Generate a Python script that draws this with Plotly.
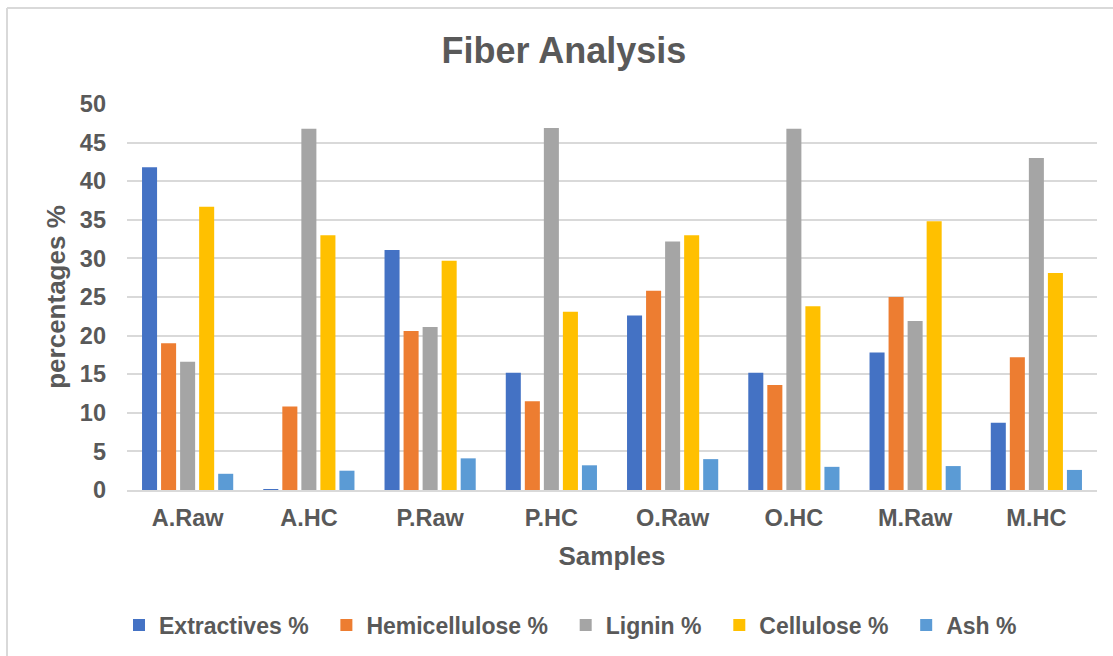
import plotly.graph_objects as go

# Sample groups shown along the x axis
samples = ["A.Raw", "A.HC", "P.Raw", "P.HC", "O.Raw", "O.HC", "M.Raw", "M.HC"]

# Fiber composition per sample (percent)
extractives = [41.8, 0.1, 31.1, 15.2, 22.6, 15.2, 17.8, 8.7]
hemicellulose = [19.0, 10.8, 20.6, 11.5, 25.8, 13.6, 25.0, 17.2]
lignin = [16.6, 46.8, 21.1, 46.9, 32.2, 46.8, 21.9, 43.0]
cellulose = [36.7, 33.0, 29.7, 23.1, 33.0, 23.8, 34.8, 28.1]
ash = [2.1, 2.5, 4.1, 3.2, 4.0, 3.0, 3.1, 2.6]

y_ticks = [0, 5, 10, 15, 20, 25, 30, 35, 40, 45, 50]

series = [
    ("Extractives %", extractives, "#4472C4"),
    ("Hemicellulose %", hemicellulose, "#ED7D31"),
    ("Lignin %", lignin, "#A5A5A5"),
    ("Cellulose %", cellulose, "#FFC000"),
    ("Ash %", ash, "#5B9BD5"),
]

TEXT = "#595959"
GRID = "#D9D9D9"
FONT = "Liberation Sans, Arial, sans-serif"
PAD = "\u00a0\u00a0"  # extra room after each legend label

fig = go.Figure()
for name, values, color in series:
    fig.add_trace(go.Bar(
        x=samples, y=values, name=f"<b>{name}</b>{PAD}",
        marker=dict(color=color, line=dict(width=0)),
    ))

W, H = 1113, 656
L, R, T, B = 127, 16, 104, 166
pw, ph = W - L - R, H - T - B


def px_x(px):
    return (px - L) / pw


def px_y(py):
    return (H - B - py) / ph


fig.update_layout(
    width=W, height=H,
    margin=dict(l=L, r=R, t=T, b=B, autoexpand=False),
    paper_bgcolor="white", plot_bgcolor="white",
    barmode="group", bargap=0.215, bargroupgap=0.21,
    font=dict(family=FONT, color=TEXT),
    title=dict(
        text="<b>Fiber Analysis</b>",
        font=dict(size=36, color=TEXT, family=FONT),
        x=564 / W, xanchor="center",
        y=1 - 50 / H, yanchor="middle",
    ),
    xaxis=dict(
        title=dict(text="<b>Samples</b>", font=dict(size=26, color=TEXT), standoff=17),
        tickfont=dict(size=23.5, color=TEXT),
        ticks="", showgrid=False, ticklabelstandoff=6,
        showline=True, linecolor=GRID, linewidth=2,
        tickprefix="<b>", ticksuffix="</b>",
    ),
    yaxis=dict(
        title=dict(text="<b>percentages %</b>", font=dict(size=26, color=TEXT), standoff=6),
        range=[0, 50], tickvals=y_ticks,
        ticktext=[f"<b>{v}</b>" for v in y_ticks],
        tickfont=dict(size=23.5, color=TEXT),
        ticks="", ticklabelstandoff=20,
        showgrid=True, gridcolor=GRID, gridwidth=2,
        zeroline=False,
    ),
    legend=dict(
        orientation="h",
        x=px_x(577), xanchor="center",
        y=px_y(625), yanchor="middle",
        font=dict(size=23, color=TEXT),
        itemwidth=30,
        traceorder="normal",
    ),
    showlegend=True,
)

# Light chart-area frame along the top and left edges
fig.add_shape(type="line", xref="paper", yref="paper",
              x0=px_x(7), x1=px_x(W + 5), y0=px_y(8), y1=px_y(8),
              line=dict(color=GRID, width=2))
fig.add_shape(type="line", xref="paper", yref="paper",
              x0=px_x(7), x1=px_x(7), y0=px_y(8), y1=px_y(H + 5),
              line=dict(color=GRID, width=2))

fig.write_html("out.html")
